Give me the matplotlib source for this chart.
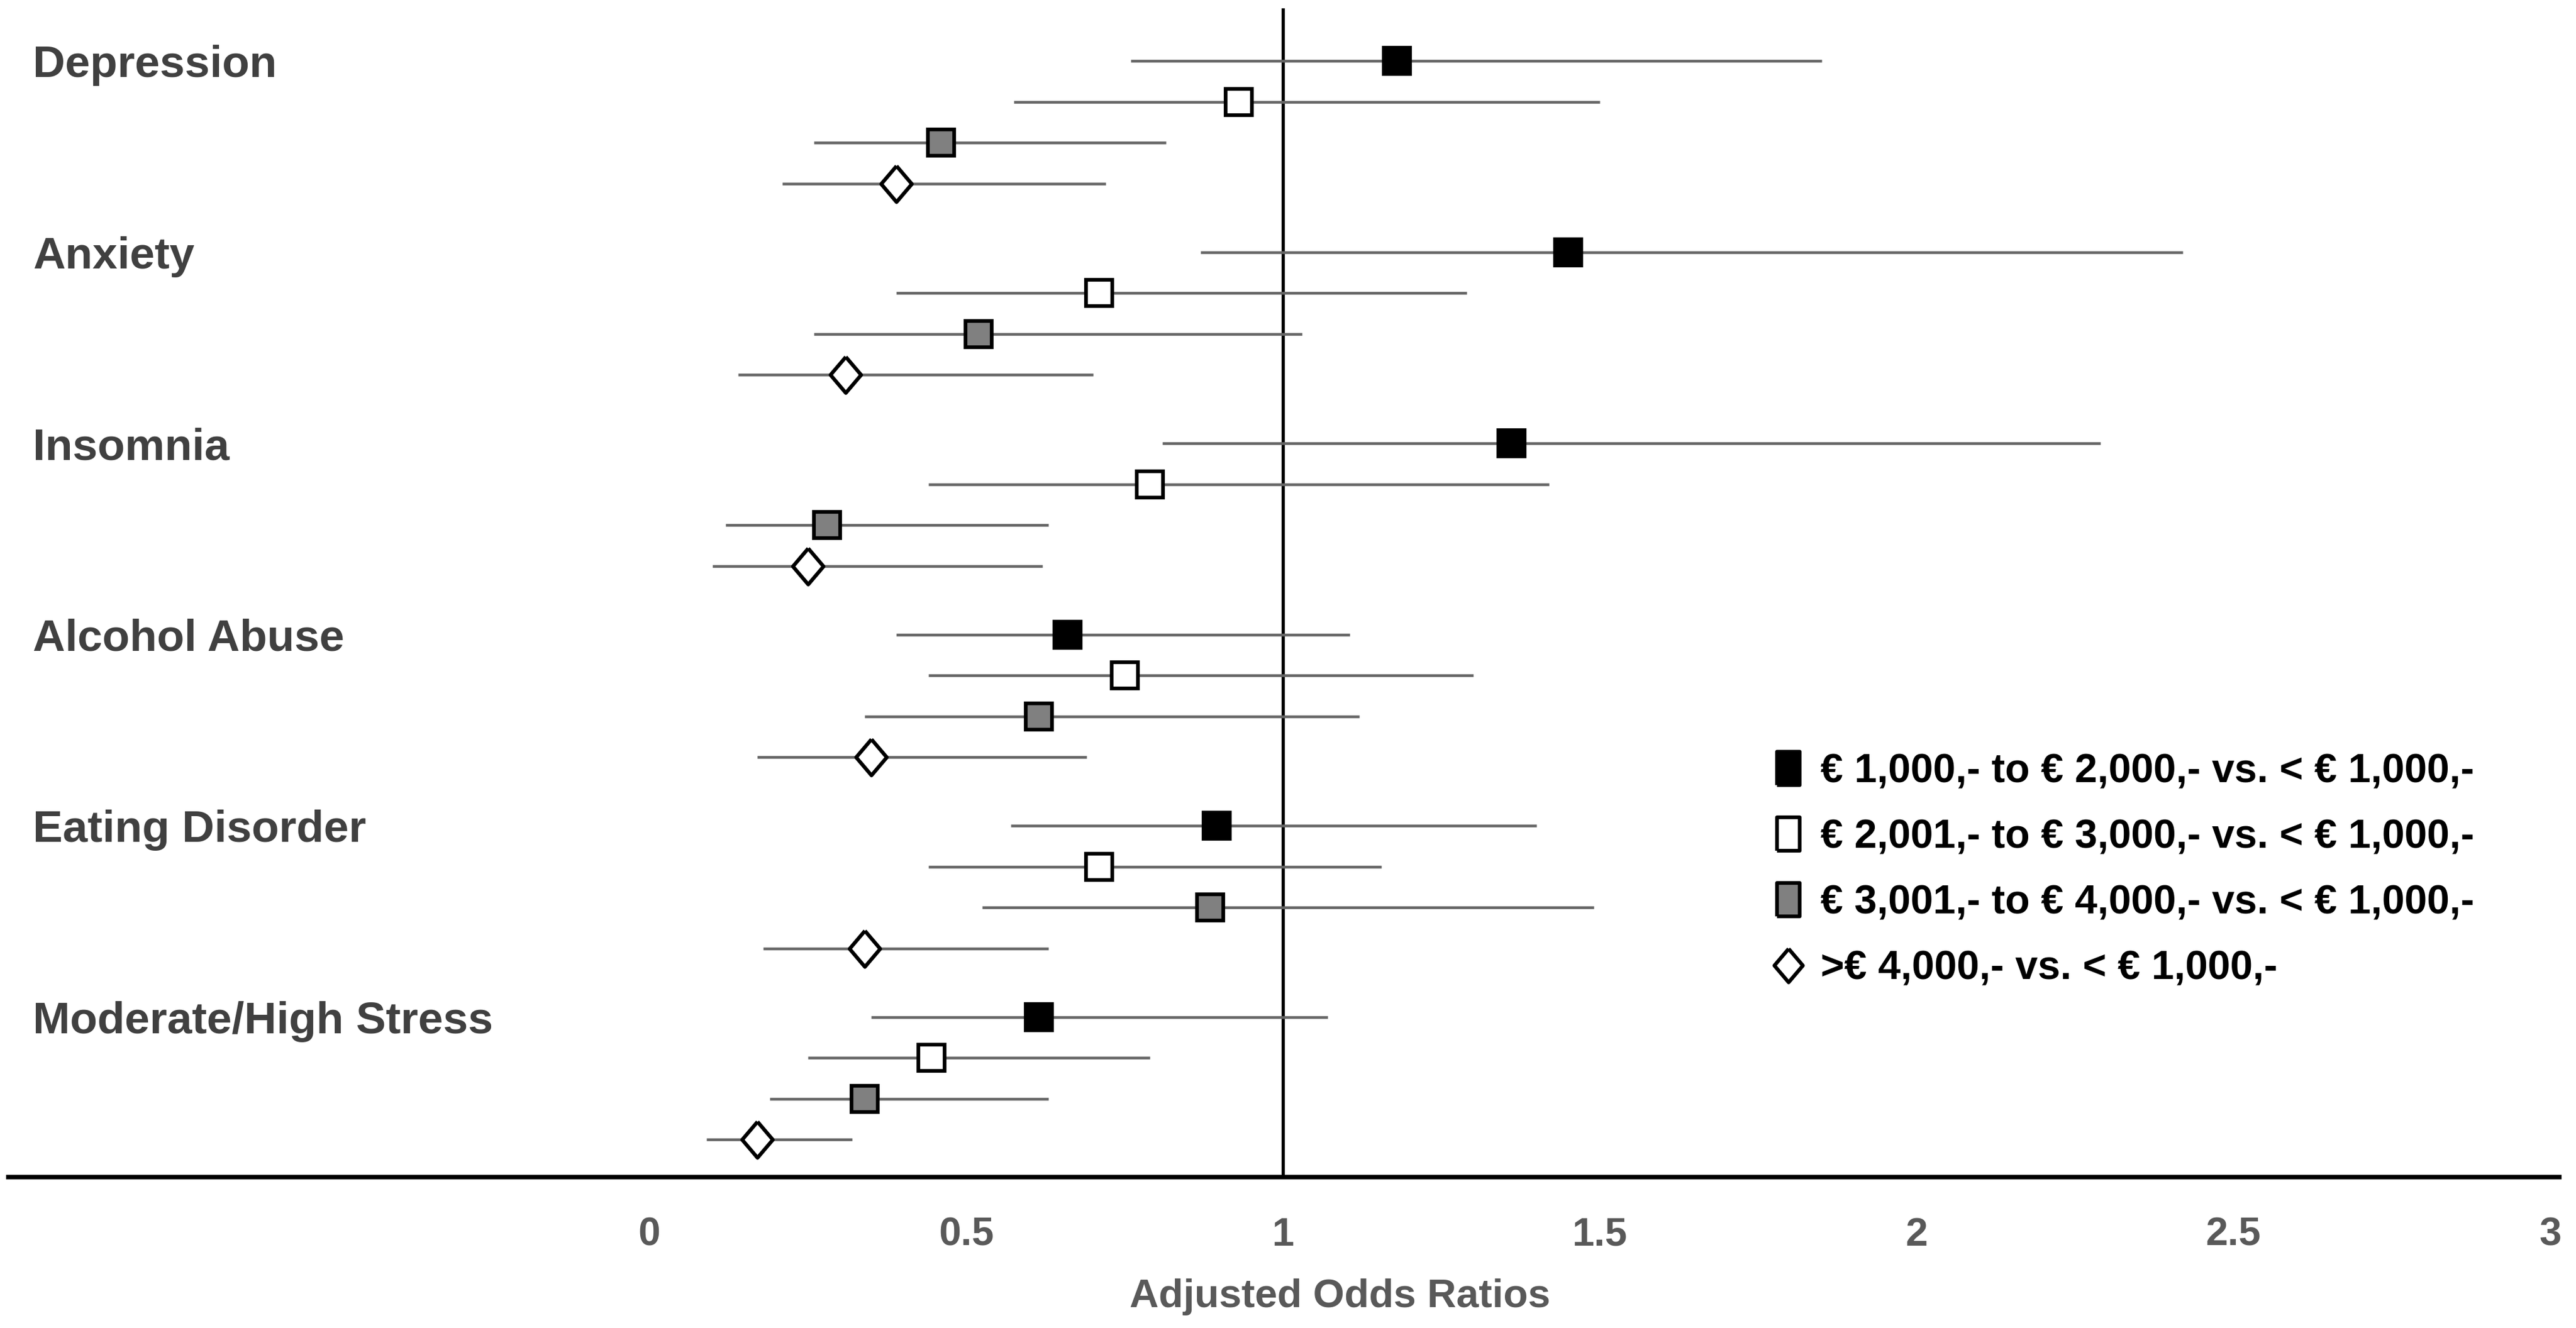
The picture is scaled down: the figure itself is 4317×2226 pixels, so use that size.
import matplotlib.pyplot as plt
from matplotlib.lines import Line2D
import numpy as np

plt.rcParams['font.family'] = ['Liberation Sans', 'DejaVu Sans']

outcomes = ["Depression", "Anxiety", "Insomnia", "Alcohol Abuse",
            "Eating Disorder", "Moderate/High Stress"]
income_groups = ["€ 1,000,- to € 2,000,- vs. < € 1,000,-",
                 "€ 2,001,- to € 3,000,- vs. < € 1,000,-",
                 "€ 3,001,- to € 4,000,- vs. < € 1,000,-",
                 ">€ 4,000,- vs. < € 1,000,-"]

# adjusted odds ratios and 95% CI, one list per income group (order = outcomes)
aor_1 = [1.18, 1.45, 1.36, 0.66, 0.895, 0.615]
lo_1 = [0.76, 0.87, 0.81, 0.39, 0.57, 0.35]
hi_1 = [1.85, 2.42, 2.29, 1.105, 1.40, 1.07]

aor_2 = [0.93, 0.71, 0.79, 0.75, 0.71, 0.445]
lo_2 = [0.575, 0.39, 0.44, 0.44, 0.44, 0.25]
hi_2 = [1.50, 1.29, 1.42, 1.30, 1.155, 0.79]

aor_3 = [0.46, 0.52, 0.28, 0.615, 0.885, 0.34]
lo_3 = [0.26, 0.26, 0.12, 0.34, 0.525, 0.19]
hi_3 = [0.815, 1.03, 0.63, 1.12, 1.49, 0.63]

aor_4 = [0.39, 0.31, 0.25, 0.35, 0.34, 0.17]
lo_4 = [0.21, 0.14, 0.10, 0.17, 0.18, 0.09]
hi_4 = [0.72, 0.70, 0.62, 0.69, 0.63, 0.32]

x_ticks = [0, 0.5, 1, 1.5, 2, 2.5, 3]
x_ticklabels = ["0", "0.5", "1", "1.5", "2", "2.5", "3"]

series = [(aor_1, lo_1, hi_1), (aor_2, lo_2, hi_2),
          (aor_3, lo_3, hi_3), (aor_4, lo_4, hi_4)]

diamond = [(0, 1), (0.85, 0), (0, -1), (-0.85, 0), (0, 1)]
tall_box = [(-0.68, -1), (0.68, -1), (0.68, 1), (-0.68, 1), (-0.68, -1)]
styles = [dict(marker='s', mfc='black', ms=10.5),
          dict(marker='s', mfc='white', ms=10.5),
          dict(marker='s', mfc='#808080', ms=10.5),
          dict(marker=diamond, mfc='white', ms=14.5)]

group_step = 4.68

fig = plt.figure(figsize=(4317 / 300, 2226 / 300), dpi=300)
ax = fig.add_axes([5 / 1567, 1 - 718 / 810, 1552 / 1567, 713 / 810])

for j, (aor, lo, hi) in enumerate(series):
    aor = np.array(aor)
    ys = np.arange(len(outcomes)) * group_step + j
    xerr = [aor - np.array(lo), np.array(hi) - aor]
    ax.errorbar(aor, ys, xerr=xerr, fmt='none', ecolor='#666666',
                elinewidth=1.1, capsize=0, zorder=2)
    ax.plot(aor, ys, linestyle='none', mec='black', mew=1.5, zorder=3,
            **styles[j])

ax.axvline(1, color='black', lw=1.3, zorder=1)

for g, name in enumerate(outcomes):
    ax.text(0.0097, g * group_step, name, transform=ax.get_yaxis_transform(),
            ha='left', va='center_baseline', fontsize=18, fontweight='bold',
            color='#404040')

ax.set_xlim(-1.0117, 3.0143)
ax.set_ylim((len(outcomes) - 1) * group_step + 3 + 0.92, -1.29)
ax.set_xticks(x_ticks)
ax.set_xticklabels(x_ticklabels)
ax.tick_params(axis='x', length=0, pad=16, labelsize=16, labelcolor='#595959')
for lab in ax.get_xticklabels():
    lab.set_fontweight('bold')
ax.set_yticks([])
for side in ['left', 'right', 'top']:
    ax.spines[side].set_visible(False)
ax.spines['bottom'].set_linewidth(1.8)
ax.spines['bottom'].set_color('black')

fig.text(815 / 1567, 1 - 791 / 810, "Adjusted Odds Ratios", ha='center',
         va='center', fontsize=16.2, fontweight='bold', color='#595959')

handles = []
for j, st in enumerate(styles):
    m = tall_box if j < 3 else diamond
    handles.append(Line2D([], [], linestyle='none', marker=m, mfc=st['mfc'],
                          mec='black', mew=1.5, ms=13.5))
ax.legend(handles, income_groups, loc='upper left',
          bbox_to_anchor=(1078 / 1567, 1 - 459 / 810),
          bbox_transform=fig.transFigure, frameon=False,
          prop=dict(size=16.3, weight='bold'), handlelength=0.8,
          handletextpad=0.4, labelspacing=0.68, borderpad=0, borderaxespad=0)

fig.savefig("out.png", dpi=300)
